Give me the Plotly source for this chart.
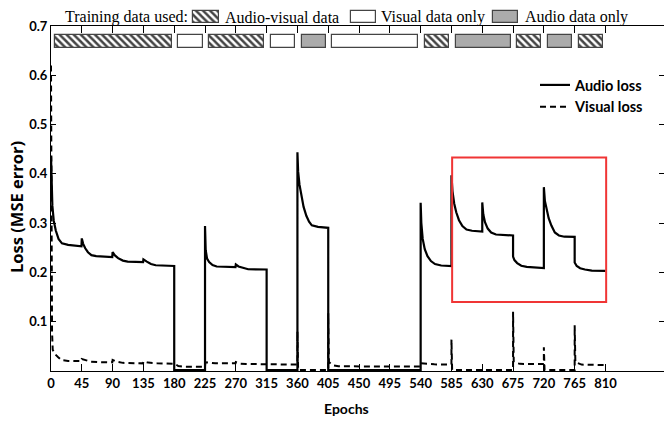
import plotly.graph_objects as go

# ---------------- data ----------------
phase_start = [0, 180, 225, 315, 360, 405, 540, 585, 675, 720, 765]
phase_end = [180, 225, 315, 360, 405, 540, 585, 675, 720, 765, 810]
phase_type = ["av", "v", "av", "v", "a", "v", "av", "a", "av", "a", "av"]
phase_labels = {"av": "Audio-visual data", "v": "Visual data only", "a": "Audio data only"}

audio_epoch = [0, 1, 2, 4, 7, 11, 16, 25, 44.5,
               45, 47, 50, 54, 59, 66, 89.5,
               90, 93, 98, 105, 112, 134.5,
               135, 140, 146, 153, 180, 180,
               225, 225, 226, 228, 231, 236, 242, 269.5,
               270, 274, 280, 288, 315, 315,
               360, 360, 361, 363, 366, 369, 373, 377, 381, 390, 405, 405,
               540, 540, 541, 543, 546, 550, 555, 561, 570, 585,
               585, 586.5, 589, 592, 596, 601, 607, 615, 630,
               630, 631.5, 634, 638, 643, 650, 675,
               675, 677, 681, 687, 695, 720,
               720, 721.5, 724, 727, 731, 736, 742, 750, 765,
               765, 768, 773, 780, 790, 810]
audio_loss = [0.435, 0.37, 0.335, 0.305, 0.285, 0.268, 0.259, 0.256, 0.253,
              0.269, 0.258, 0.249, 0.241, 0.235, 0.233, 0.231,
              0.2415, 0.235, 0.229, 0.224, 0.222, 0.221,
              0.2265, 0.222, 0.217, 0.2145, 0.213, 0.002,
              0.002, 0.294, 0.245, 0.228, 0.221, 0.215, 0.212, 0.211,
              0.216, 0.212, 0.209, 0.2065, 0.206, 0.002,
              0.002, 0.444, 0.405, 0.378, 0.352, 0.333, 0.315, 0.303, 0.2955, 0.2925, 0.2905, 0.002,
              0.002, 0.3415, 0.300, 0.268, 0.247, 0.233, 0.223, 0.217, 0.214, 0.213,
              0.397, 0.365, 0.340, 0.322, 0.306, 0.294, 0.287, 0.2845, 0.283,
              0.342, 0.318, 0.302, 0.289, 0.281, 0.277, 0.275,
              0.232, 0.225, 0.219, 0.2135, 0.2112, 0.209,
              0.373, 0.345, 0.326, 0.310, 0.295, 0.281, 0.275, 0.2725, 0.272,
              0.220, 0.213, 0.2085, 0.206, 0.2035, 0.203]

visual_epoch = [0, 0.8, 1.5, 2.5, 6, 10.5, 15.5, 25, 44.5,
                45, 50, 58, 70, 89.5,
                90, 95, 105, 134.5,
                135, 142, 155, 180,
                181, 186, 193, 225,
                225.5, 240, 269.5,
                270, 276, 285, 315, 340, 360,
                360, 361, 405, 405, 406, 411, 420, 540,
                540.5, 560, 585, 585, 586, 675,
                675, 676, 685, 720, 720, 721, 765,
                765, 766, 775, 810]
visual_loss = [0.62, 0.25, 0.08, 0.043, 0.034, 0.028, 0.022, 0.0205, 0.0202,
               0.0245, 0.022, 0.019, 0.018, 0.0175,
               0.0225, 0.019, 0.0165, 0.0155,
               0.0195, 0.017, 0.0158, 0.0155,
               0.0145, 0.010, 0.0088, 0.0088,
               0.0175, 0.0158, 0.0155,
               0.018, 0.015, 0.0142, 0.0138, 0.013, 0.013,
               0.080, 0.002, 0.002, 0.117, 0.018, 0.012, 0.0095, 0.009,
               0.0155, 0.0135, 0.013, 0.064, 0.002, 0.002,
               0.120, 0.018, 0.0145, 0.014, 0.048, 0.002, 0.002,
               0.093, 0.018, 0.013, 0.012]

x_tick_vals = [0, 45, 90, 135, 180, 225, 270, 315, 360, 405, 450, 495, 540, 585, 630, 675, 720, 765, 810]
y_tick_vals = [0.1, 0.2, 0.3, 0.4, 0.5, 0.6, 0.7]

highlight_epochs = [586, 811]
highlight_loss = [0.14, 0.433]

# ---------------- style ----------------
W, H = 664, 422
ML, MR, MT, MB = 51, 0, 0, 51
PAPER_W = W - ML - MR
PAPER_H = H - MT - MB
PLOT_TOP_PX = 26
Y_DOMAIN_TOP = 1 - PLOT_TOP_PX / PAPER_H
X_MAX = 895.5

FILL = {"av": "white", "v": "white", "a": "#ababab"}
PATTERN = {"av": "\\", "v": "", "a": ""}
PAT = dict(fillmode="overlay", fgcolor="black", fgopacity=1, size=5, solidity=0.5)
BAR_BASE, BAR_HEIGHT = 0.655, 0.027
INSET_L, INSET_R = 6, 3.5

SANS = "Liberation Sans Narrow, Arial Narrow, Lato, sans-serif"
SERIF = "Liberation Serif, Times New Roman, serif"


def px_x(px):
    return (px - ML) / PAPER_W


def px_y(px):
    return (PAPER_H - (px - MT)) / PAPER_H


fig = go.Figure()

# training-phase bars
bx, bw = [], []
for s, e in zip(phase_start, phase_end):
    x0, x1 = s + INSET_L, e - INSET_R
    bx.append((x0 + x1) / 2)
    bw.append(x1 - x0)
fig.add_trace(go.Bar(
    x=bx, y=[BAR_HEIGHT] * len(bx), base=[BAR_BASE] * len(bx), width=bw,
    marker=dict(color=[FILL[t] for t in phase_type],
                line=dict(color="#444444", width=1.2),
                pattern=dict(shape=[PATTERN[t] for t in phase_type], **PAT)),
    showlegend=False, hoverinfo="skip"))

# loss curves
fig.add_trace(go.Scatter(x=visual_epoch, y=visual_loss, mode="lines", name="Visual loss",
                         line=dict(color="black", width=2, dash="6px,4px"), legendrank=2))
fig.add_trace(go.Scatter(x=audio_epoch, y=audio_loss, mode="lines", name="Audio loss",
                         line=dict(color="black", width=2.2), legendrank=1))

# top legend swatches (drawn in the top strip)
sw_types = ["av", "v", "a"]
sw_left = [193, 351, 493]
sw_width = [26, 24.5, 25]
sw_text_left = [223, 378.5, 523]
SW_TOP, SW_BOTTOM = 10.5, 23
fig.add_trace(go.Bar(
    x=[l + w / 2 for l, w in zip(sw_left, sw_width)], width=sw_width,
    y=[SW_TOP - SW_BOTTOM] * 3, base=[SW_BOTTOM] * 3,
    xaxis="x2", yaxis="y2",
    marker=dict(color=[FILL[t] for t in sw_types],
                line=dict(color="#444444", width=1.2),
                pattern=dict(shape=[PATTERN[t] for t in sw_types], **PAT)),
    showlegend=False, hoverinfo="skip"))

annotations = [dict(text="Training data used:", x=px_x(63), y=px_y(17), xref="paper", yref="paper",
                    xanchor="left", yanchor="middle", showarrow=False,
                    font=dict(family=SERIF, size=16, color="black"))]
for t, tl in zip(sw_types, sw_text_left):
    annotations.append(dict(text=phase_labels[t], x=px_x(tl), y=px_y(17), xref="paper", yref="paper",
                            xanchor="left", yanchor="middle", showarrow=False,
                            font=dict(family=SERIF, size=16, color="black")))
annotations.append(dict(text="Epochs", x=px_x(346), y=px_y(408), xref="paper", yref="paper",
                        xanchor="center", yanchor="middle", showarrow=False,
                        font=dict(family=SANS, size=14, color="black", weight="bold")))
annotations.append(dict(text="Loss (MSE error)", x=px_x(16), y=px_y(207), xref="paper", yref="paper",
                        xanchor="center", yanchor="middle", showarrow=False, textangle=-90,
                        font=dict(family="Open Sans, sans-serif", size=16.5, color="black",
                                  weight="bold")))

fig.update_layout(
    template="none",
    width=W, height=H,
    margin=dict(l=ML, r=MR, t=MT, b=MB, autoexpand=False),
    paper_bgcolor="white", plot_bgcolor="white",
    bargap=0,
    xaxis=dict(range=[0, X_MAX], tickmode="array", tickvals=x_tick_vals, automargin=False,
               ticks="inside", ticklen=7, tickcolor="black", tickwidth=1,
               showline=True, linecolor="black", linewidth=1.2, mirror="ticks",
               showgrid=False, zeroline=False,
               tickfont=dict(family=SANS, size=13, color="black", weight="bold")),
    yaxis=dict(range=[0, 0.7], domain=[0, Y_DOMAIN_TOP], tickmode="array", tickvals=y_tick_vals,
               automargin=False,
               tickformat=".1f", ticks="inside", ticklen=5, tickcolor="black", tickwidth=1,
               showline=True, linecolor="black", linewidth=1.2, mirror="ticks",
               showgrid=False, zeroline=False,
               tickfont=dict(family=SANS, size=13, color="black", weight="bold")),
    xaxis2=dict(domain=[0, 1], range=[ML, W - MR], visible=False, anchor="y2", fixedrange=True,
                automargin=False),
    yaxis2=dict(domain=[Y_DOMAIN_TOP, 1], range=[PLOT_TOP_PX, 0], visible=False, anchor="x2",
                fixedrange=True, automargin=False),
    legend=dict(x=px_x(535), y=px_y(69), xanchor="left", yanchor="top",
                bgcolor="rgba(0,0,0,0)", borderwidth=0, itemwidth=30,
                font=dict(family=SANS, size=14.5, color="black", weight="bold"),
                tracegroupgap=0),
    shapes=[dict(type="rect", xref="x", yref="y",
                 x0=highlight_epochs[0], x1=highlight_epochs[1],
                 y0=highlight_loss[0], y1=highlight_loss[1],
                 line=dict(color="#f03535", width=2), fillcolor="rgba(0,0,0,0)")],
    annotations=annotations,
)

fig.write_html("out.html")
